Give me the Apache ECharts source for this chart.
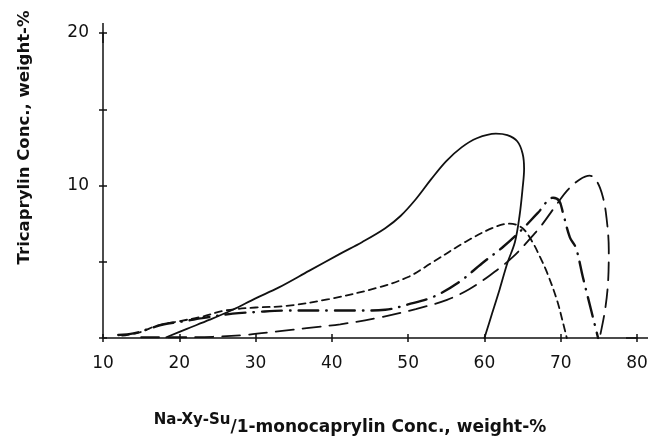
<!DOCTYPE html>
<html>
<head>
<meta charset="utf-8">
<script src="https://cdn.jsdelivr.net/npm/echarts@6/dist/echarts.min.js"></script>
<style>
html, body { margin: 0; padding: 0; background: #fff; }
#chart { width: 651px; height: 444px; }
</style>
</head>
<body>
<div id="chart"></div>
<script>
"use strict";

/*-----data-----*/
var xMin = 10, xMax = 80, xStep = 10;
var yMin = 0, yMax = 20, yStep = 5;
var yLabelValues = [10, 20];

// [Na-Xy-Su / 1-monocaprylin %, tricaprylin %]
var solidCurve = [[18.3,0.05],[21,0.6],[24,1.2],[27,1.85],[30,2.6],[33,3.3],[37,4.4],[41,5.5],[44,6.3],[47,7.2],[49,8.0],[51,9.1],[53,10.4],[55,11.6],[57,12.5],[59,13.1],[61.5,13.4],[63,13.3],[64.3,12.9],[65.0,12.1],[65.2,11.1],[65.0,9.8],[64.6,8.0],[64.0,6.3],[63.0,4.9],[62.0,3.2],[61.0,1.6],[60.0,0]];
var shortDashCurve = [[12.5,0.15],[15,0.4],[17,0.8],[20,1.1],[23,1.4],[26,1.8],[30,2.0],[34,2.1],[39.6,2.55],[46,3.3],[50,4.0],[53,4.9],[57.5,6.3],[61,7.2],[63.3,7.5],[65,7.2],[66.4,6.2],[67.3,5.3],[68.2,4.3],[69.5,2.5],[70.3,1.0],[70.8,0]];
var dashDotCurve = [[12,0.2],[14,0.3],[16,0.6],[18,0.9],[20,1.05],[23,1.3],[27,1.6],[30,1.7],[34,1.8],[40,1.8],[44,1.8],[47,1.85],[50,2.2],[53.3,2.7],[56.5,3.6],[59.7,4.9],[62.5,6.0],[64.9,7.1],[67,8.2],[69,9.2],[69.8,9.0],[70.3,8.2],[71.2,6.6],[72,5.9],[72.9,4.0],[73.6,2.6],[74.3,1.2],[74.9,0]];
var longDashCurve = [[15,0.05],[20,0.05],[24.4,0.08],[28.6,0.2],[33.2,0.45],[36.7,0.65],[41.1,0.9],[46.3,1.35],[51,1.9],[55.1,2.5],[58,3.2],[60.7,4.1],[63.7,5.3],[66.4,6.75],[67.5,7.4],[69.6,8.85],[70.9,9.7],[72.5,10.4],[73.8,10.65],[74.7,10.3],[75.5,9.3],[76,7.9],[76.3,5.8],[76.2,3.6],[75.8,1.8],[75.1,0]];

var ink = '#111';
var tickFont = 'DejaVu Sans';
var titleFont = 'DejaVu Sans';

function curve(data, dash, width) {
	return {
		type: 'line',
		data: data,
		smooth: 0.35,
		symbol: 'none',
		silent: true,
		lineStyle: { color: ink, width: width, type: dash, cap: 'round' }
	};
}

var chart = echarts.init(document.getElementById('chart'), null, { renderer: 'canvas' });
var option = {
	backgroundColor: '#fff',
	animation: false,
	grid: { left: 103, right: 14, top: 33, bottom: 106, containLabel: false },
	xAxis: [{
		type: 'value',
		min: xMin, max: xMax, interval: xStep,
		position: 'bottom',
		axisLine: { show: true, lineStyle: { color: ink, width: 1.5 }, symbol: ['none', 'rect'], symbolSize: [1.5, 22] },
		axisTick: { show: true, inside: false, length: 4, lineStyle: { color: ink, width: 1.5 } },
		axisLabel: { margin: 17, color: ink, fontFamily: tickFont, fontSize: 17 },
		splitLine: { show: false },
		name: '{sup|Na-Xy-Su}{main|/1-monocaprylin Conc., weight-%}',
		nameLocation: 'middle',
		nameGap: 75,
		nameTextStyle: {
			padding: [0, 40, 0, 0],
			rich: {
				sup: { fontFamily: titleFont, fontWeight: 'bold', fontSize: 15, color: ink, verticalAlign: 'top', lineHeight: 23 },
				main: { fontFamily: titleFont, fontWeight: 'bold', fontSize: 17, color: ink, verticalAlign: 'bottom', lineHeight: 23 }
			}
		}
	}, {
		type: 'value',
		min: xMin, max: xMax, interval: xStep,
		position: 'bottom',
		axisLine: { show: false },
		axisTick: { show: true, inside: true, length: 4, lineStyle: { color: ink, width: 1.5 } },
		axisLabel: { show: false },
		splitLine: { show: false }
	}],
	yAxis: [{
		type: 'value',
		min: yMin, max: yMax, interval: yStep,
		position: 'left',
		axisLine: { show: true, lineStyle: { color: ink, width: 1.5 }, symbol: ['none', 'rect'], symbolSize: [1.5, 20] },
		axisTick: { show: true, inside: false, length: 4, lineStyle: { color: ink, width: 1.5 } },
		axisLabel: {
			margin: 14, color: ink, fontFamily: tickFont, fontSize: 17,
			formatter: function (v) { return yLabelValues.indexOf(v) >= 0 ? String(v) : ''; }
		},
		splitLine: { show: false },
		name: 'Tricaprylin Conc., weight-%',
		nameLocation: 'middle',
		nameRotate: 90,
		nameGap: 70,
		nameTextStyle: { fontFamily: titleFont, fontWeight: 'bold', fontSize: 16.5, color: ink, padding: [0, 0, 0, 96] }
	}, {
		type: 'value',
		min: yMin, max: yMax, interval: yStep,
		position: 'left',
		axisLine: { show: false },
		axisTick: { show: true, inside: true, length: 4, lineStyle: { color: ink, width: 1.5 } },
		axisLabel: { show: false },
		splitLine: { show: false }
	}],
	series: [
		curve(solidCurve, 'solid', 1.8),
		curve(shortDashCurve, [7, 5], 1.8),
		curve(dashDotCurve, [20, 8, 0.5, 8], 2.4),
		curve(longDashCurve, [18, 9], 1.8)
	]
};
chart.setOption(option);
window.addEventListener('resize', function () {
	chart.resize();
});
</script>
</body>
</html>
